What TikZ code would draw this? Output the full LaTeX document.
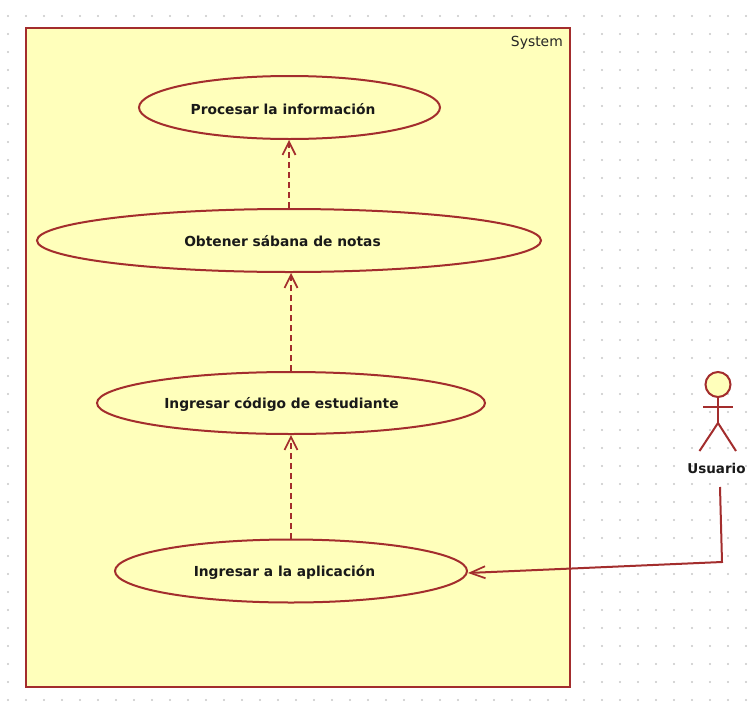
\documentclass[tikz,border=0pt]{standalone}
\usepackage{fontspec}
\setmainfont{DejaVu Sans}
\usetikzlibrary{shapes.geometric,arrows.meta}
\definecolor{umlline}{RGB}{163,45,45}
\definecolor{umlfill}{RGB}{255,255,187}
\definecolor{griddot}{RGB}{200,200,200}
\newcommand{\uclabel}[3]{\raisebox{#1}{#3}\kern#2}
\tikzset{
  usecase/.style={ellipse,draw=umlline,fill=umlfill,line width=2pt,inner sep=0pt,font=\fontsize{13.8}{15}\selectfont\bfseries,text=black!90,text depth=0pt,text height=7pt},
  dep/.style={draw=umlline,line width=1.8pt,dash pattern=on 6pt off 4pt,-{Straight Barb[length=13pt,width=13pt,line width=1.7pt]}},
  assoc/.style={draw=umlline,line width=2pt,-{Straight Barb[length=15pt,width=12pt,line width=1.7pt]}},
  actorline/.style={draw=umlline,line width=2pt}
}
\begin{document}
\begin{tikzpicture}[x=1pt,y=-1pt]
\useasboundingbox (0,0) rectangle (753,718);
\fill[white] (0,0) rectangle (753,718);
\foreach \i in {0,...,41}{\foreach \j in {0,...,38}{
  \fill[griddot] ({8+18*\i},{16+18*\j}) circle (1.1pt);}}
\node[draw=umlline,fill=umlfill,line width=2.2pt,inner sep=0pt,minimum width=544pt,minimum height=659pt] (sys) at (298,357.5) {};
\node[anchor=north east,inner sep=0pt,font=\fontsize{13.9}{15}\selectfont,text=black!85] (sysl) at (563,36) {System};
\node[usecase,minimum width=301pt,minimum height=63pt] (e1) at (289.5,107.5) {\uclabel{-3.5pt}{13pt}{Procesar la información}};
\node[usecase,minimum width=504pt,minimum height=63pt] (e2) at (289,240.5) {\uclabel{-2pt}{13pt}{Obtener sábana de notas}};
\node[usecase,minimum width=388pt,minimum height=62pt] (e3) at (291,403) {\uclabel{-1.5pt}{19pt}{Ingresar código de estudiante}};
\node[usecase,minimum width=352pt,minimum height=63pt] (e4) at (291,571) {\uclabel{-2pt}{13pt}{Ingresar a la aplicación}};
\draw[dep] (e2.north) -- (e2.north |- e1.south);
\draw[dep] (e3.north) -- (e3.north |- e2.south);
\draw[dep] (e4.north) -- (e4.north |- e3.south);
% actor
\node[circle,draw=umlline,fill=umlfill,line width=2pt,minimum size=25pt,inner sep=0pt] (head) at (718,384.5) {};
\coordinate (hip) at (718,423);
\coordinate (armL) at (703,406.5);
\coordinate (armR) at (733,406.5);
\coordinate (legL) at (699.5,451);
\coordinate (legR) at (736,451);
\draw[actorline] (head.south) -- (hip);
\draw[actorline] (armL) -- (armR);
\draw[actorline] (legL) -- (hip) -- (legR);
\node[inner sep=0pt,font=\fontsize{13.5}{15}\selectfont\bfseries,text=black!90] (usuario) at (716.5,468) {Usuario};
\coordinate (start) at (720,487);
\coordinate (bend) at (722,562);
\draw[assoc,line join=miter] (start) -- (bend) -- ([yshift=-2pt]e4.east);
\end{tikzpicture}
\end{document}
